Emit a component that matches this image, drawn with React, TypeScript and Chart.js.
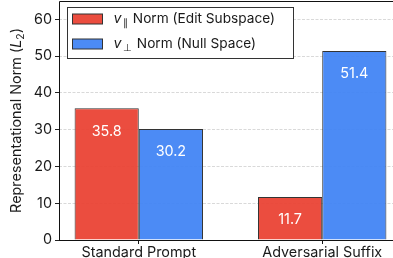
import React, { useEffect, useRef } from "react";
import { Chart, registerables } from "chart.js";

Chart.register(...registerables);

const CATEGORIES = ["Standard Prompt", "Adversarial Suffix"];
const PARALLEL_NORM = [35.8, 11.7];
const PERP_NORM = [30.2, 51.4];
const Y_TICKS = [0, 10, 20, 30, 40, 50, 60];
const Y_MAX = 65;

const RED = "rgba(234,67,53,0.95)";
const BLUE = "rgba(66,133,244,0.95)";
const EDGE = "#333333";
const TEXT = "#1a1a1a";
const FONT = "Inter";
const FS = 14.4;
const LFS = 13.7;

const overlayPlugin = {
  id: "overlay",
  afterDatasetsDraw(chart: any) {
    const ctx = chart.ctx;
    ctx.save();
    ctx.fillStyle = "#ffffff";
    ctx.font = `${FS}px ${FONT}`;
    ctx.textAlign = "center";
    ctx.textBaseline = "middle";
    chart.data.datasets.forEach((ds: any, di: number) => {
      const meta = chart.getDatasetMeta(di);
      meta.data.forEach((bar: any, i: number) => {
        const v = ds.data[i].y;
        ctx.fillText(v.toFixed(1), bar.x, bar.y + 23);
      });
    });
    ctx.restore();
  },
  afterDraw(chart: any) {
    const ctx = chart.ctx;
    const a = chart.chartArea;
    ctx.save();
    // spines (left, top, bottom)
    ctx.strokeStyle = "#111";
    ctx.lineWidth = 1;
    ctx.beginPath();
    ctx.moveTo(a.left + 0.5, a.bottom);
    ctx.lineTo(a.left + 0.5, a.top + 0.5);
    ctx.lineTo(a.right, a.top + 0.5);
    ctx.moveTo(a.left, a.bottom + 0.5);
    ctx.lineTo(a.right, a.bottom + 0.5);
    ctx.stroke();

    // legend
    const lx = a.left + 8.5;
    const ly = 7.5;
    ctx.fillStyle = "#ffffff";
    ctx.fillRect(lx, ly, 226, 51);
    ctx.strokeStyle = "#333";
    ctx.strokeRect(lx, ly, 226, 51);
    const rows = [
      { color: RED, sub: "\u2225", label: " Norm (Edit Subspace)", y: 19 },
      { color: BLUE, sub: "\u22A5", label: " Norm (Null Space)", y: 44 },
    ];
    rows.forEach((r) => {
      ctx.fillStyle = r.color;
      ctx.fillRect(lx + 5, r.y - 5, 30, 10);
      ctx.strokeStyle = EDGE;
      ctx.strokeRect(lx + 5, r.y - 5, 30, 10);
      ctx.fillStyle = TEXT;
      ctx.textBaseline = "middle";
      ctx.textAlign = "left";
      let x = lx + 46;
      ctx.font = `italic ${LFS + 0.5}px ${FONT}`;
      ctx.fillText("v", x, r.y);
      x += ctx.measureText("v").width + 1.5;
      ctx.font = `${LFS - 4}px ${FONT}`;
      ctx.fillText(r.sub, x, r.y + 4);
      x += ctx.measureText(r.sub).width + 1;
      ctx.font = `${LFS}px ${FONT}`;
      ctx.fillText(r.label, x, r.y);
    });

    // y-axis title
    const parts = [
      { t: "Representational Norm (", f: `${FS}px ${FONT}`, dy: 0 },
      { t: "L", f: `italic ${FS}px ${FONT}`, dy: 0 },
      { t: "2", f: `${FS - 4}px ${FONT}`, dy: 4 },
      { t: ")", f: `${FS}px ${FONT}`, dy: 0 },
    ];
    let total = 0;
    parts.forEach((p) => {
      ctx.font = p.f;
      total += ctx.measureText(p.t).width;
    });
    ctx.translate(17, (a.top + a.bottom) / 2);
    ctx.rotate(-Math.PI / 2);
    ctx.fillStyle = TEXT;
    ctx.textBaseline = "middle";
    ctx.textAlign = "left";
    let x = -total / 2;
    parts.forEach((p) => {
      ctx.font = p.f;
      ctx.fillText(p.t, x, p.dy);
      x += ctx.measureText(p.t).width;
    });
    ctx.restore();
  },
};

export default function App() {
  const ref = useRef<HTMLCanvasElement>(null);
  useEffect(() => {
    if (!ref.current) return;
    const chart = new Chart(ref.current, {
      type: "bar",
      data: {
        datasets: [
          {
            label: "v∥ Norm (Edit Subspace)",
            data: PARALLEL_NORM.map((y, i) => ({ x: i, y })),
            backgroundColor: RED,
            borderColor: EDGE,
            borderWidth: 1,
            categoryPercentage: 0.7,
            barPercentage: 1,
          },
          {
            label: "v⊥ Norm (Null Space)",
            data: PERP_NORM.map((y, i) => ({ x: i, y })),
            backgroundColor: BLUE,
            borderColor: EDGE,
            borderWidth: 1,
            categoryPercentage: 0.7,
            barPercentage: 1,
          },
        ],
      },
      options: {
        responsive: false,
        animation: false,
        devicePixelRatio: 1,
        layout: { padding: { top: 1, right: 18, left: 0, bottom: 0 } },
        plugins: { legend: { display: false }, tooltip: { enabled: false } },
        scales: {
          x: {
            type: "linear",
            min: -0.435,
            max: 1.435,
            offset: false,
            grid: {
              offset: false,
              drawOnChartArea: false,
              tickLength: 4,
              tickColor: "#111",
              tickWidth: 1,
            },
            border: { display: false },
            afterBuildTicks: (scale: any) => {
              scale.ticks = CATEGORIES.map((_, i) => ({ value: i }));
            },
            ticks: {
              autoSkip: false,
              maxRotation: 0,
              padding: 0,
              color: TEXT,
              font: { family: FONT, size: FS },
              callback: (v: any) => CATEGORIES[v] ?? "",
            },
            afterFit: (scale: any) => {
              scale.height = 18;
              scale.paddingLeft = 0;
              scale.paddingRight = 0;
            },
          },
          y: {
            min: 0,
            max: Y_MAX,
            afterBuildTicks: (scale: any) => {
              scale.ticks = Y_TICKS.map((v) => ({ value: v }));
            },
            grid: {
              color: "#cfcfcf",
              lineWidth: 0.8,
              tickLength: 4,
              tickColor: "#222",
              tickWidth: 1,
            },
            border: { display: false, dash: [3, 1.5] },
            ticks: {
              padding: 3,
              color: TEXT,
              font: { family: FONT, size: FS },
            },
            afterFit: (scale: any) => {
              scale.width = 59;
              scale.paddingTop = 0;
              scale.paddingBottom = 0;
            },
          },
        },
      },
      plugins: [overlayPlugin],
    } as any);
    return () => chart.destroy();
  }, []);
  return (
    <div
      style={{
        position: "fixed",
        left: 0,
        top: 0,
        width: 393,
        height: 258,
        overflow: "hidden",
        background: "#fff",
      }}
    >
      <canvas
        ref={ref}
        width={420}
        height={258}
        style={{ display: "block", width: 420, height: 258 }}
      />
    </div>
  );
}
